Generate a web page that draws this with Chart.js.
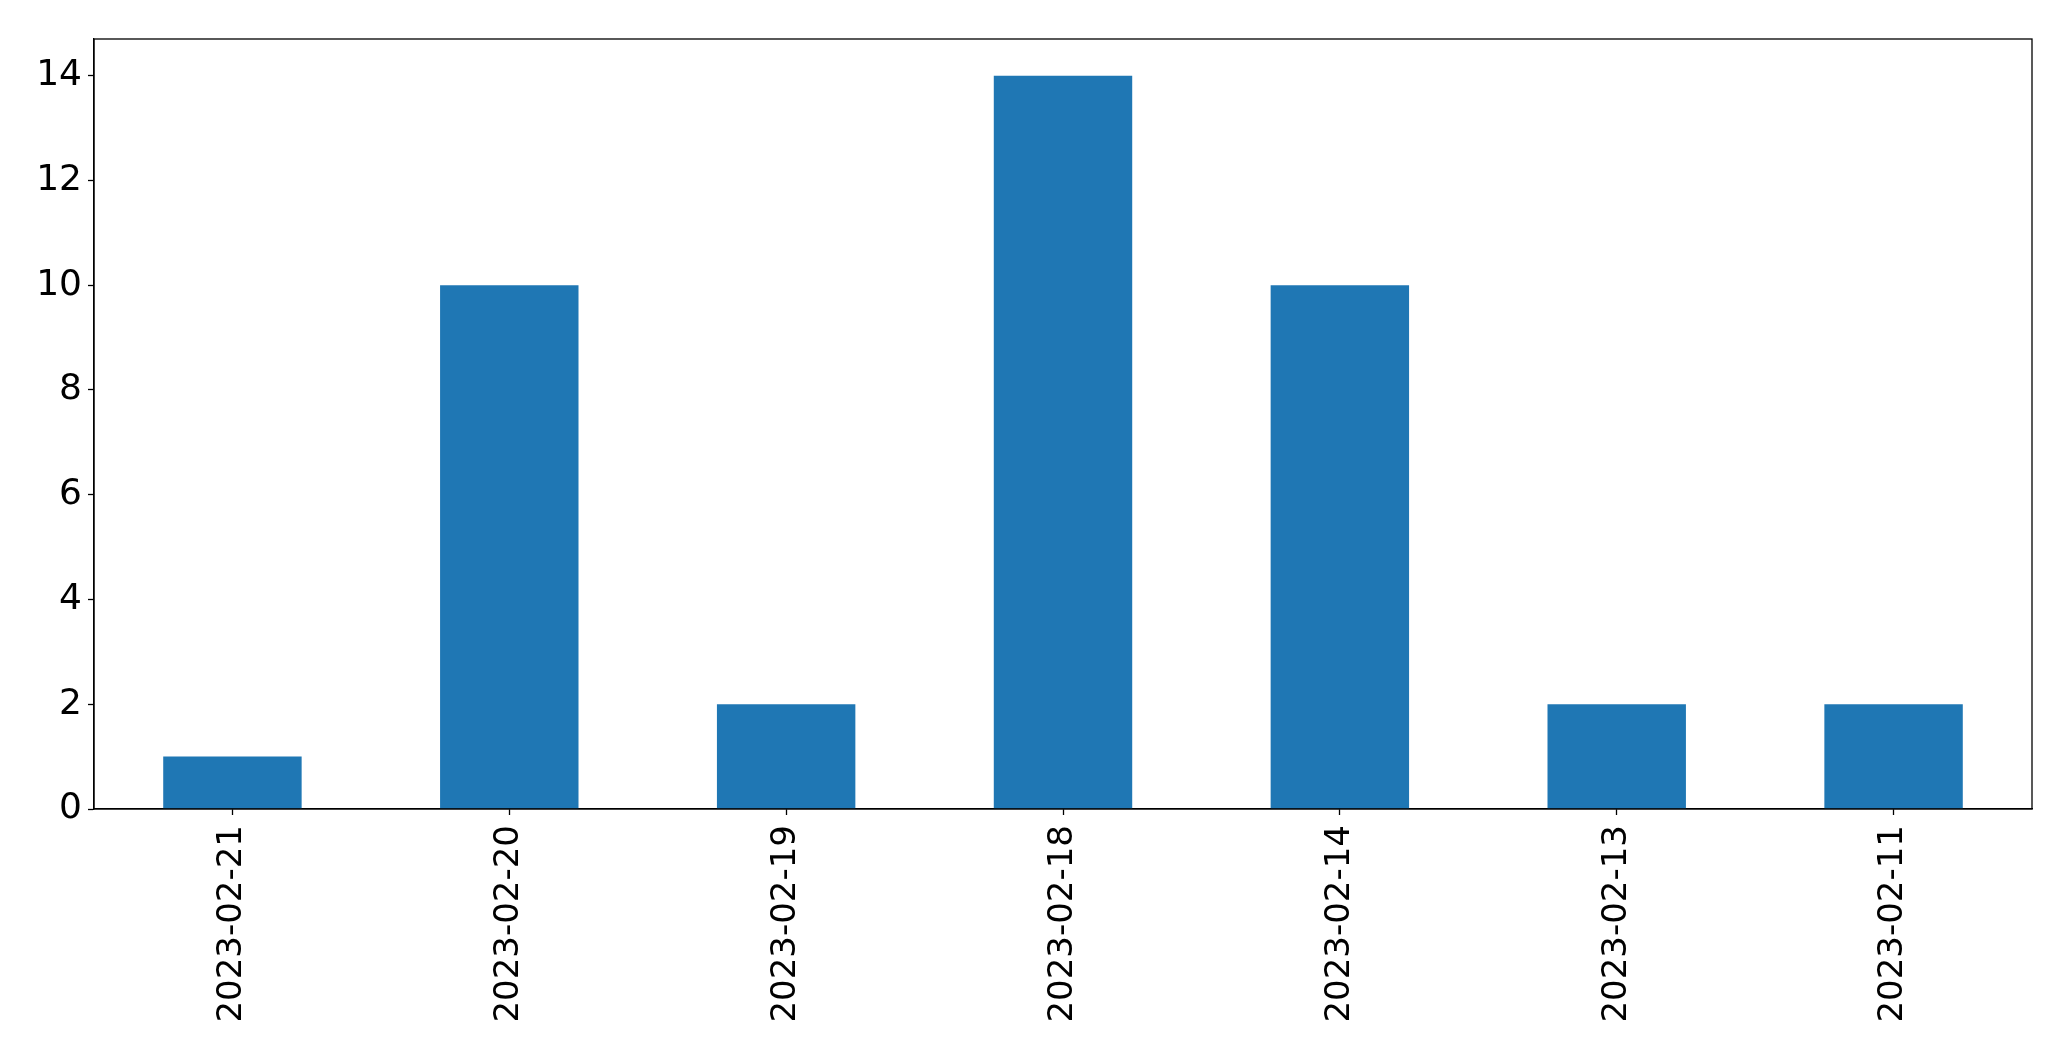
<!DOCTYPE html>
<html>
<head>
<meta charset="utf-8">
<script src="https://cdn.jsdelivr.net/npm/chart.js@4"></script>
<style>
    html, body { margin: 0; padding: 0; background: #fff; }
    #wrap { width: 2071px; height: 1061px; }
</style>
</head>
<body>
<div id="wrap"><canvas id="chart1"></canvas></div>
<script>
var dates = ['2023-02-21', '2023-02-20', '2023-02-19', '2023-02-18', '2023-02-14', '2023-02-13', '2023-02-11'];
var counts = [1, 10, 2, 14, 10, 2, 2];
var yTicks = [0, 2, 4, 6, 8, 10, 12, 14];
var yMax = 14.7;

// box round the plot area, like the matplotlib frame
var frame = {
    id: 'frame',
    afterDatasetsDraw: function (chart) {
        var a = chart.chartArea;
        var ctx = chart.ctx;
        ctx.save();
        ctx.strokeStyle = '#000';
        ctx.lineWidth = 1.3;
        ctx.strokeRect(a.left, a.top, a.right - a.left, a.bottom - a.top);
        ctx.restore();
    }
};

var ctx = document.getElementById('chart1').getContext('2d');
new Chart(ctx, {
    type: 'bar',
    data: {
        labels: dates,
        datasets: [{
            data: counts,
            backgroundColor: '#1f77b4',
            borderWidth: 0,
            barPercentage: 0.5,
            categoryPercentage: 1.0
        }]
    },
    options: {
        responsive: true,
        maintainAspectRatio: false,
        animation: false,
        layout: { padding: { top: 39, right: 39, left: 0, bottom: 0 } },
        plugins: {
            legend: { display: false },
            tooltip: { enabled: false }
        },
        scales: {
            x: {
                grid: { offset: false, drawOnChartArea: false, tickLength: 6, tickColor: '#000', tickWidth: 1.3 },
                border: { color: '#000', width: 1.3 },
                ticks: {
                    color: '#000',
                    minRotation: 90,
                    maxRotation: 90,
                    padding: 10,
                    autoSkip: false,
                    font: { family: 'DejaVu Sans', size: 34 }
                },
                afterFit: function (axis) { axis.height = 252; }
            },
            y: {
                min: 0,
                max: yMax,
                grid: { drawOnChartArea: false, tickLength: 6, tickColor: '#000', tickWidth: 1.3 },
                border: { color: '#000', width: 1.3 },
                ticks: {
                    color: '#000',
                    padding: 6,
                    font: { family: 'DejaVu Sans', size: 36 }
                },
                afterBuildTicks: function (axis) {
                    axis.ticks = yTicks.map(function (v) { return { value: v }; });
                },
                afterFit: function (axis) { axis.width = 94; }
            }
        }
    },
    plugins: [frame]
});
</script>
</body>
</html>
